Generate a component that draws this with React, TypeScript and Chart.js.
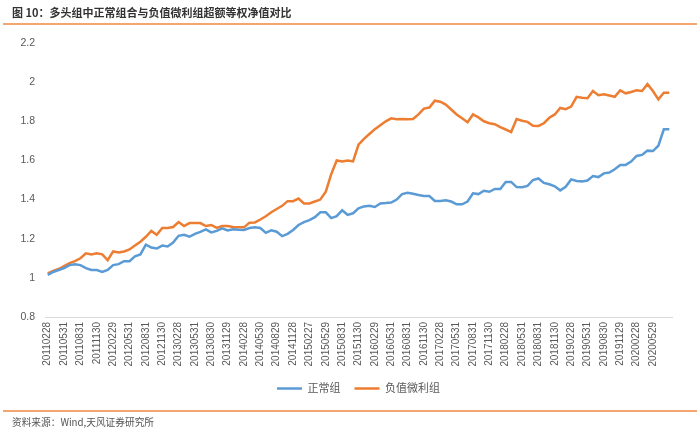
import React, { useEffect, useRef } from "react";
import { Chart, registerables } from "chart.js";

Chart.register(...registerables);

const dates = [
  "20110228", "20110331", "20110429", "20110531", "20110630", "20110729", "20110831", "20110930", "20111031", "20111130", "20111230",
  "20120131", "20120229", "20120330", "20120427", "20120531", "20120629", "20120731", "20120831", "20120928", "20121031", "20121130", "20121231",
  "20130131", "20130228", "20130329", "20130426", "20130531", "20130628", "20130731", "20130830", "20130930", "20131031", "20131129", "20131231",
  "20140130", "20140228", "20140331", "20140430", "20140530", "20140630", "20140731", "20140829", "20140930", "20141031", "20141128", "20141231",
  "20150130", "20150227", "20150331", "20150430", "20150529", "20150630", "20150731", "20150831", "20150930", "20151030", "20151130", "20151231",
  "20160129", "20160229", "20160331", "20160429", "20160531", "20160630", "20160729", "20160831", "20160930", "20161031", "20161130", "20161230",
  "20170126", "20170228", "20170331", "20170428", "20170531", "20170630", "20170731", "20170831", "20170929", "20171031", "20171130", "20171229",
  "20180131", "20180228", "20180330", "20180427", "20180531", "20180629", "20180731", "20180831", "20180928", "20181031", "20181130", "20181228",
  "20190131", "20190228", "20190329", "20190430", "20190531", "20190628", "20190731", "20190830", "20190930", "20191031", "20191129", "20191231",
  "20200123", "20200228", "20200331", "20200430", "20200529", "20200630", "20200731", "20200831",
];

const shownTickLabels = [
  "20110228", "20110531", "20110831", "20111130", "20120229", "20120531", "20120831", "20121130",
  "20130228", "20130531", "20130830", "20131129", "20140228", "20140530", "20140829", "20141128",
  "20150227", "20150529", "20150831", "20151130", "20160229", "20160531", "20160831", "20161130",
  "20170228", "20170531", "20170831", "20171130", "20180228", "20180531", "20180831", "20181130",
  "20190228", "20190531", "20190830", "20191129", "20200228", "20200529",
];

const normalGroup = [
  1.015, 1.03, 1.04, 1.05, 1.065, 1.07, 1.065, 1.05, 1.04, 1.04, 1.03,
  1.04, 1.065, 1.07, 1.085, 1.085, 1.11, 1.12, 1.17, 1.155, 1.15, 1.165, 1.16,
  1.18, 1.215, 1.22, 1.21, 1.225, 1.235, 1.248, 1.232, 1.24, 1.253, 1.242, 1.248,
  1.246, 1.245, 1.255, 1.258, 1.255, 1.23, 1.243, 1.236, 1.213, 1.225, 1.245, 1.27,
  1.285, 1.295, 1.31, 1.335, 1.335, 1.305, 1.315, 1.345, 1.322, 1.33, 1.355, 1.365,
  1.368, 1.362, 1.38, 1.382, 1.385, 1.4, 1.428, 1.435, 1.43, 1.423, 1.418, 1.418,
  1.393, 1.393, 1.396, 1.39, 1.376, 1.376, 1.39, 1.432, 1.428, 1.445, 1.44, 1.454,
  1.454, 1.49, 1.49, 1.464, 1.463, 1.47, 1.5, 1.508, 1.485, 1.478, 1.468, 1.447,
  1.465, 1.503, 1.495, 1.493, 1.497, 1.52, 1.515, 1.534, 1.538, 1.555, 1.577, 1.577,
  1.594, 1.623, 1.628, 1.65, 1.648, 1.675, 1.759, 1.759,
];

const lowProfitGroup = [
  1.023, 1.035, 1.045, 1.06, 1.075, 1.085, 1.1, 1.125, 1.12, 1.125, 1.12,
  1.09, 1.135, 1.13, 1.135, 1.145, 1.165, 1.185, 1.21, 1.24, 1.22, 1.255, 1.255,
  1.26, 1.285, 1.265, 1.28, 1.28, 1.28, 1.265, 1.27, 1.255, 1.265, 1.265, 1.26,
  1.258, 1.258, 1.282, 1.283, 1.298, 1.315, 1.335, 1.352, 1.368, 1.392, 1.392, 1.405,
  1.38, 1.38, 1.39, 1.4, 1.44, 1.53, 1.6, 1.595, 1.6, 1.595, 1.68, 1.71,
  1.735, 1.76, 1.78, 1.8, 1.815, 1.81, 1.812, 1.81, 1.812, 1.835, 1.865, 1.87,
  1.905, 1.9, 1.885, 1.86, 1.835, 1.815, 1.795, 1.835, 1.82, 1.8, 1.79, 1.785,
  1.77, 1.758, 1.745, 1.812, 1.803, 1.797, 1.777, 1.776, 1.79, 1.818, 1.835, 1.868,
  1.862, 1.875, 1.925, 1.92, 1.918, 1.955, 1.933, 1.938, 1.932, 1.925, 1.958, 1.943,
  1.95, 1.958, 1.955, 1.99, 1.955, 1.912, 1.946, 1.946,
];

const seriesNames = ["正常组", "负值微利组"];
const yMin = 0.8;
const yMax = 2.2;
const yStep = 0.2;

const FONT = "'Liberation Sans', 'Noto Sans CJK SC', sans-serif";

export default function App() {
  const canvasRef = useRef<HTMLCanvasElement | null>(null);

  useEffect(() => {
    document.body.style.margin = "0";
    const canvas = canvasRef.current;
    if (!canvas) return;
    const shown = new Set(shownTickLabels);
    const chart = new Chart(canvas, {
      type: "line",
      data: {
        labels: dates,
        datasets: [
          {
            label: seriesNames[0],
            data: normalGroup,
            borderColor: "#5B9BD5",
            backgroundColor: "#5B9BD5",
            borderWidth: 2.5,
            pointRadius: 0,
            pointStyle: "line",
            tension: 0,
          },
          {
            label: seriesNames[1],
            data: lowProfitGroup,
            borderColor: "#ED7D31",
            backgroundColor: "#ED7D31",
            borderWidth: 2.5,
            pointRadius: 0,
            pointStyle: "line",
            tension: 0,
          },
        ],
      },
      options: {
        responsive: false,
        animation: false,
        devicePixelRatio: 1,
        layout: { padding: { left: 0, right: 28, top: 43, bottom: 25 } },
        plugins: {
          legend: {
            position: "bottom",
            fullSize: false,
            labels: {
              usePointStyle: true,
              pointStyleWidth: 25,
              padding: 14,
              color: "#595959",
              font: { family: FONT, size: 11 },
            },
          },
          tooltip: { enabled: false },
        },
        scales: {
          x: {
            offset: true,
            grid: { display: false, drawTicks: false },
            border: { display: true, color: "#D9D9D9", width: 1 },
            ticks: {
              autoSkip: false,
              minRotation: 90,
              maxRotation: 90,
              padding: 5,
              color: "#595959",
              font: { family: FONT, size: 10 },
              callback: (_v: any, idx: number) => (shown.has(dates[idx]) ? dates[idx] : null),
            },
            afterFit: (scale: any) => {
              scale.height = 52;
            },
          },
          y: {
            min: yMin,
            max: yMax,
            grid: { display: false, drawTicks: false },
            border: { display: false },
            ticks: {
              stepSize: yStep,
              padding: 10,
              color: "#595959",
              font: { family: FONT, size: 10.5 },
              callback: (v: any) => String(Number(Number(v).toFixed(1))),
            },
            afterFit: (scale: any) => {
              scale.width = 45;
            },
          },
        },
      },
    });
    return () => chart.destroy();
  }, []);

  return (
    <div style={{ position: "relative", width: 700, height: 429, background: "#fff", fontFamily: FONT, overflow: "hidden" }}>
      <canvas ref={canvasRef} width={700} height={429} style={{ position: "absolute", left: 0, top: 0 }} />
      <div style={{ position: "absolute", left: 12, top: 5, fontSize: 11, fontWeight: "bold", color: "#333", whiteSpace: "nowrap", lineHeight: "14px", fontFamily: "'Noto Sans CJK SC', sans-serif" }}>
        图 10：多头组中正常组合与负值微利组超额等权净值对比
      </div>
      <div style={{ position: "absolute", left: 3, top: 23, width: 694, height: 2, background: "#F4A671" }} />
      <div style={{ position: "absolute", left: 3, top: 410, width: 694, height: 2, background: "#F4A671" }} />
      <div style={{ position: "absolute", left: 12, top: 415, fontSize: 9.7, color: "#555", whiteSpace: "nowrap", lineHeight: "14px", fontFamily: "'Noto Sans CJK SC', sans-serif" }}>
        资料来源：Wind,天风证券研究所
      </div>
    </div>
  );
}
